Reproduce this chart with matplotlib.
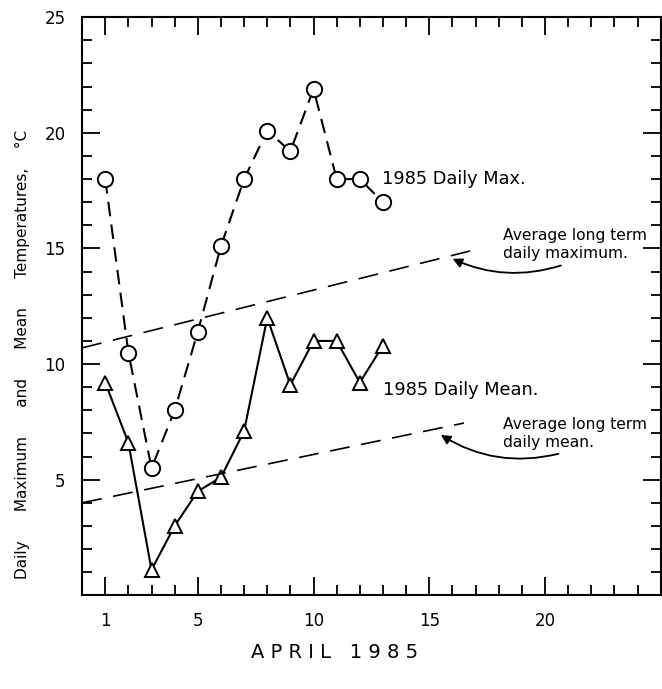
import matplotlib
matplotlib.use("Agg")
import matplotlib.pyplot as plt
from matplotlib.ticker import MultipleLocator, FixedLocator

# April 1985 daily temperatures (deg C)
days = [1, 2, 3, 4, 5, 6, 7, 8, 9, 10, 11, 12, 13]
daily_max = [18.0, 10.5, 5.5, 8.0, 11.4, 15.1, 18.0, 20.1, 19.2, 21.9, 18.0, 18.0, 17.0]
daily_mean = [9.2, 6.6, 1.1, 3.0, 4.5, 5.1, 7.1, 12.0, 9.1, 11.0, 11.0, 9.2, 10.8]

# long term averages (straight lines, start/end)
lt_max_x = [0, 17.2]
lt_max_y = [10.7, 15.0]
lt_mean_x = [0, 16.5]
lt_mean_y = [4.0, 7.45]

xtick_vals = [1, 5, 10, 15, 20]
ytick_vals = [5, 10, 15, 20, 25]

plt.rcParams['font.family'] = ['DejaVu Sans']

fig = plt.figure(figsize=(6.62, 6.89), dpi=100)
ax = fig.add_axes([0.124, 0.136, 0.874, 0.839])

ax.plot(days, daily_max, color='black', lw=1.5, ls=(0, (7, 4)),
        marker='o', ms=11, mfc='white', mec='black', mew=1.4)
ax.plot(days, daily_mean, color='black', lw=1.5, ls='-',
        marker='^', ms=10, mfc='white', mec='black', mew=1.4)

ax.plot(lt_max_x, lt_max_y, color='black', lw=1.2, ls=(0, (12, 7)))
ax.plot(lt_mean_x, lt_mean_y, color='black', lw=1.2, ls=(0, (12, 7)))

ax.text(12.95, 18.0, '1985 Daily Max.', fontsize=12.8, va='center', ha='left')
ax.text(13.0, 8.9, '1985 Daily Mean.', fontsize=12.8, va='center', ha='left')
ax.text(18.2, 15.15, 'Average long term\ndaily maximum.', fontsize=11.2,
        va='center', ha='left', linespacing=1.25)
ax.text(18.2, 7.0, 'Average long term\ndaily mean.', fontsize=11.2,
        va='center', ha='left', linespacing=1.25)

ax.annotate('', xy=(15.9, 14.6), xytext=(20.8, 14.3),
            arrowprops=dict(arrowstyle='-|>', color='black', lw=1.3,
                            mutation_scale=14,
                            connectionstyle='arc3,rad=-0.2'))
ax.annotate('', xy=(15.4, 7.0), xytext=(20.7, 6.15),
            arrowprops=dict(arrowstyle='-|>', color='black', lw=1.3,
                            mutation_scale=14,
                            connectionstyle='arc3,rad=-0.22'))

ax.set_xlim(0, 25)
ax.set_ylim(0, 25)
ax.xaxis.set_major_locator(FixedLocator(xtick_vals))
ax.xaxis.set_minor_locator(MultipleLocator(1))
ax.yaxis.set_major_locator(FixedLocator(ytick_vals))
ax.yaxis.set_minor_locator(MultipleLocator(1))

ax.tick_params(which='both', direction='in', top=True, right=True,
               width=1.3, labelsize=12, pad=12)
ax.tick_params(which='major', length=13)
ax.tick_params(which='minor', length=7)
for s in ax.spines.values():
    s.set_linewidth(1.5)

fig.text(0.034, 0.486,
         'Daily      Maximum      and      Mean      Temperatures,    °C',
         rotation=90, fontsize=11, ha='center', va='center')
fig.text(0.505, 0.053, 'A P R I L   1 9 8 5', fontsize=14, ha='center', va='center')

fig.savefig('out.png', dpi=100)
